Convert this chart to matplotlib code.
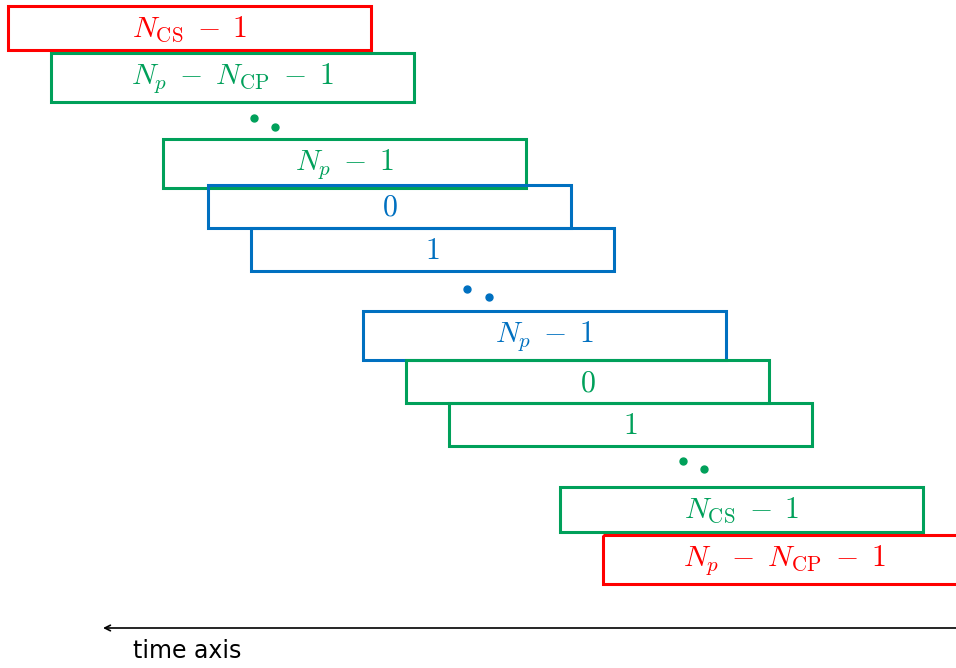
import matplotlib.pyplot as plt
from matplotlib.patches import Rectangle

plt.rcParams['mathtext.fontset'] = 'cm'

# symbol blocks, top to bottom
labels = [r'$N_{\rm CS}\;-\;1$', r'$N_p\;-\;N_{\rm CP}\;-\;1$', r'$N_p\;-\;1$',
          r'$0$', r'$1$', r'$N_p\;-\;1$', r'$0$', r'$1$',
          r'$N_{\rm CS}\;-\;1$', r'$N_p\;-\;N_{\rm CP}\;-\;1$']
kinds = ['edge', 'prev', 'prev', 'cur', 'cur', 'cur', 'next', 'next', 'next', 'edge']
x_start = [8, 51, 163, 208, 251, 363, 406, 449, 560, 603]
y_top = [6, 53, 139, 185, 228, 311, 360, 403, 487, 535]
y_bot = [50, 102, 188, 228, 271, 360, 403, 446, 532, 584]
block_len = 363

# the "..." between groups
dots_x = [[254, 275], [467, 489], [683, 704]]
dots_y = [[118, 127], [289, 297], [461, 469]]
dots_kind = ['prev', 'cur', 'next']

colors = {'edge': '#ff0000', 'prev': '#00a05a', 'cur': '#0070c0', 'next': '#00a05a'}

fig = plt.figure(figsize=(9.56, 6.68), dpi=100)
ax = fig.add_axes([0, 0, 1, 1])
ax.set_xlim(0, 956)
ax.set_ylim(668, 0)
ax.axis('off')

for lab, k, x0, yt, yb in zip(labels, kinds, x_start, y_top, y_bot):
    c = colors[k]
    ax.add_patch(Rectangle((x0, yt), block_len, yb - yt, fill=False,
                           edgecolor=c, lw=2.2, clip_on=True))
    ax.text(x0 + block_len / 2, (yt + yb) / 2 + 1, lab, color=c, fontsize=21.5,
            ha='center', va='center')

for xs, ys, k in zip(dots_x, dots_y, dots_kind):
    ax.plot(xs, ys, 'o', color=colors[k], ms=5, ls='none')

# time axis
ax.annotate('', xy=(103, 628), xytext=(960, 628),
            arrowprops=dict(arrowstyle='->', color='black', lw=1.2,
                            shrinkA=0, shrinkB=0))
ax.text(133, 651, 'time axis', fontsize=17, ha='left', va='center')

plt.savefig('out.png', dpi=100)
